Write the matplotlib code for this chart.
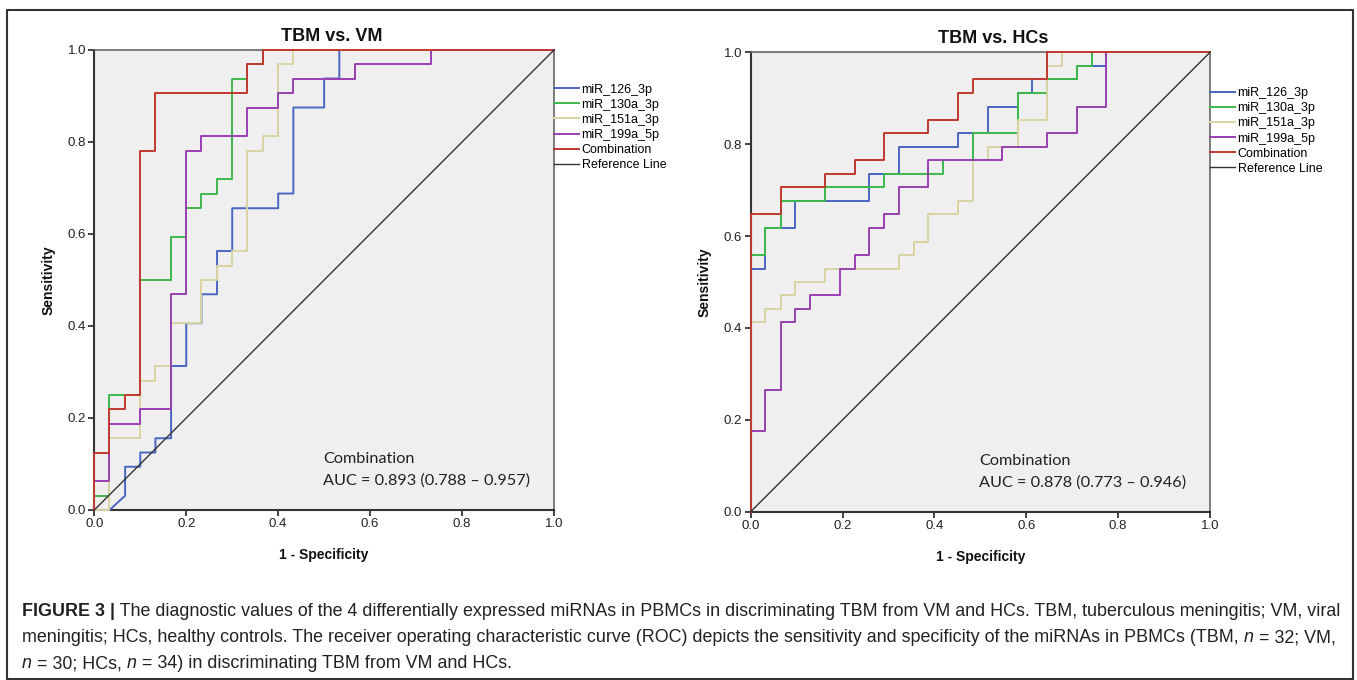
import matplotlib
matplotlib.use("Agg")
import matplotlib.pyplot as plt
from matplotlib.transforms import IdentityTransform
from matplotlib.patches import Rectangle

plt.rcParams['font.family'] = ['Liberation Sans', 'DejaVu Sans']

W, H = 1357, 680

names = ['miR_126_3p', 'miR_130a_3p', 'miR_151a_3p', 'miR_199a_5p', 'Combination']
colors = ['#4a66c4', '#3cb84a', '#d9d4a2', '#9a3fb2', '#c0392f']

# TBM vs. VM  (1 - specificity, sensitivity)
vm_126_x = [0, .033, .067, .067, .1, .1, .133, .133, .167, .167, .2, .2, .233, .233, .267, .267, .3, .3, .4, .4, .433, .433, .5, .5, .533, .533, 1]
vm_126_y = [0, 0, .031, .094, .094, .125, .125, .156, .156, .313, .313, .406, .406, .469, .469, .563, .563, .656, .656, .688, .688, .875, .875, .938, .938, 1, 1]
vm_130_x = [0, 0, .033, .033, .1, .1, .167, .167, .2, .2, .233, .233, .267, .267, .3, .3, .333, .333, .367, .367, 1]
vm_130_y = [0, .031, .031, .25, .25, .5, .5, .594, .594, .656, .656, .688, .688, .719, .719, .938, .938, .969, .969, 1, 1]
vm_151_x = [0, .033, .033, .1, .1, .133, .133, .167, .167, .233, .233, .267, .267, .3, .3, .333, .333, .367, .367, .4, .4, .433, .433, 1]
vm_151_y = [0, 0, .156, .156, .281, .281, .313, .313, .406, .406, .5, .5, .531, .531, .563, .563, .781, .781, .813, .813, .969, .969, 1, 1]
vm_199_x = [0, 0, .033, .033, .1, .1, .167, .167, .2, .2, .233, .233, .333, .333, .4, .4, .433, .433, .567, .567, .733, .733, 1]
vm_199_y = [0, .063, .063, .188, .188, .219, .219, .469, .469, .781, .781, .813, .813, .875, .875, .906, .906, .938, .938, .969, .969, 1, 1]
vm_comb_x = [0, 0, .033, .033, .067, .067, .1, .1, .133, .133, .333, .333, .367, .367, 1]
vm_comb_y = [0, .125, .125, .219, .219, .25, .25, .781, .781, .906, .906, .969, .969, 1, 1]

# TBM vs. HCs
hc_126_x = [0, 0, .032, .032, .097, .097, .258, .258, .323, .323, .452, .452, .516, .516, .581, .581, .613, .613, .71, .71, .774, .774, 1]
hc_126_y = [0, .529, .529, .618, .618, .676, .676, .735, .735, .794, .794, .824, .824, .882, .882, .912, .912, .941, .941, .971, .971, 1, 1]
hc_130_x = [0, 0, .032, .032, .065, .065, .161, .161, .29, .29, .419, .419, .484, .484, .581, .581, .645, .645, .71, .71, .742, .742, 1]
hc_130_y = [0, .559, .559, .618, .618, .676, .676, .706, .706, .735, .735, .765, .765, .824, .824, .912, .912, .941, .941, .971, .971, 1, 1]
hc_151_x = [0, 0, .032, .032, .065, .065, .097, .097, .161, .161, .323, .323, .355, .355, .387, .387, .452, .452, .484, .484, .516, .516, .581, .581, .645, .645, .677, .677, 1]
hc_151_y = [0, .412, .412, .441, .441, .471, .471, .5, .5, .529, .529, .559, .559, .588, .588, .647, .647, .676, .676, .765, .765, .794, .794, .853, .853, .971, .971, 1, 1]
hc_199_x = [0, 0, .032, .032, .065, .065, .097, .097, .129, .129, .194, .194, .226, .226, .258, .258, .29, .29, .323, .323, .387, .387, .548, .548, .645, .645, .71, .71, .774, .774, 1]
hc_199_y = [0, .176, .176, .265, .265, .412, .412, .441, .441, .471, .471, .529, .529, .559, .559, .618, .618, .647, .647, .706, .706, .765, .765, .794, .794, .824, .824, .882, .882, 1, 1]
hc_comb_x = [0, 0, .065, .065, .161, .161, .226, .226, .29, .29, .387, .387, .452, .452, .484, .484, .645, .645, 1]
hc_comb_y = [0, .647, .647, .706, .706, .735, .735, .765, .765, .824, .824, .853, .853, .912, .912, .941, .941, 1, 1]

ticks = [0.0, 0.2, 0.4, 0.6, 0.8, 1.0]
tick_labels = ['0.0', '0.2', '0.4', '0.6', '0.8', '1.0']

fig = plt.figure(figsize=(W / 100, H / 100), dpi=100)


def px_axes(l, t, r, b):
    return fig.add_axes([l / W, 1 - b / H, (r - l) / W, (b - t) / H])


def roc_panel(ax, title, title_x, curves, auc_text, leg_top):
    ax.set_facecolor('#efefef')
    for (xs, ys), name, col in zip(curves, names, colors):
        ax.plot(xs, ys, color=col, lw=1.4, label=name, clip_on=False, zorder=4)
    ax.plot([0, 1], [0, 1], color='#333333', lw=1.0, label='Reference Line', clip_on=False, zorder=4)
    ax.set_xlim(0, 1)
    ax.set_ylim(0, 1)
    ax.set_xticks(ticks)
    ax.set_xticklabels(tick_labels)
    ax.set_yticks(ticks)
    ax.set_yticklabels(tick_labels)
    ax.tick_params(labelsize=9.5, length=4, width=1.2, pad=2, colors='#222222')
    for s in ['left', 'bottom']:
        ax.spines[s].set_color('#333333')
        ax.spines[s].set_linewidth(1.5)
    for s in ['top', 'right']:
        ax.spines[s].set_color('#666666')
        ax.spines[s].set_linewidth(1.2)
    ax.text(title_x, 1.029, title, transform=ax.transAxes, ha='center', va='center',
            fontsize=13, fontweight='bold', color='#111111')
    ax.text(-0.1, 0.5, 'Sensitivity', transform=ax.transAxes, rotation=90,
            ha='center', va='center', fontsize=10, fontweight='bold', color='#111111')
    ax.text(0.5, -0.098, '1 - Specificity', transform=ax.transAxes,
            ha='center', va='center', fontsize=10, fontweight='bold', color='#111111')
    ax.text(0.497, 0.11, 'Combination', transform=ax.transAxes, ha='left', va='center',
            fontsize=11.7, family=['Lato', 'DejaVu Sans'], color='#222222')
    ax.text(0.497, 0.064, auc_text, transform=ax.transAxes, ha='left', va='center',
            fontsize=11.7, family=['Lato', 'DejaVu Sans'], color='#222222')
    ax.legend(loc='upper left', bbox_to_anchor=(1.0, leg_top), frameon=False, fontsize=9,
              handlelength=2.0, handletextpad=0.2, labelspacing=0.25,
              borderaxespad=0, borderpad=0)


ax1 = px_axes(94.3, 50, 554, 510)
roc_panel(ax1, 'TBM vs. VM', 0.516,
          [(vm_126_x, vm_126_y), (vm_130_x, vm_130_y), (vm_151_x, vm_151_y),
           (vm_199_x, vm_199_y), (vm_comb_x, vm_comb_y)],
          'AUC = 0.893 (0.788 \u2013 0.957)', 0.927)

ax2 = px_axes(750.7, 52.3, 1210, 511.7)
roc_panel(ax2, 'TBM vs. HCs', 0.529,
          [(hc_126_x, hc_126_y), (hc_130_x, hc_130_y), (hc_151_x, hc_151_y),
           (hc_199_x, hc_199_y), (hc_comb_x, hc_comb_y)],
          'AUC = 0.878 (0.773 \u2013 0.946)', 0.924)

# outer frame
fig.add_artist(Rectangle((7, 1), 1346, 669, transform=IdentityTransform(),
                         fill=False, lw=1.5, ec='#333333'))

# caption with mixed bold / italic runs
cap_lines = [
    [('FIGURE 3 |', 'bold', 'normal'),
     (' The diagnostic values of the 4 differentially expressed miRNAs in PBMCs in discriminating TBM from VM and HCs. TBM, tuberculous meningitis; VM, viral', 'normal', 'normal')],
    [('meningitis; HCs, healthy controls. The receiver operating characteristic curve (ROC) depicts the sensitivity and specificity of the miRNAs in PBMCs (TBM, ', 'normal', 'normal'),
     ('n', 'normal', 'italic'), (' = 32; VM,', 'normal', 'normal')],
    [('n', 'normal', 'italic'), (' = 30; HCs, ', 'normal', 'normal'),
     ('n', 'normal', 'italic'), (' = 34) in discriminating TBM from VM and HCs.', 'normal', 'normal')],
]
cap_y = [611, 638, 664]

renderer = fig.canvas.get_renderer()
for runs, yy in zip(cap_lines, cap_y):
    x = 22
    for s, w, st in runs:
        t = fig.text(x, H - yy, s, transform=IdentityTransform(), fontsize=12.85,
                     fontweight=w, fontstyle=st, va='center', ha='left', color='#222222')
        x += t.get_window_extent(renderer=renderer).width

fig.savefig('out.png', dpi=100)
